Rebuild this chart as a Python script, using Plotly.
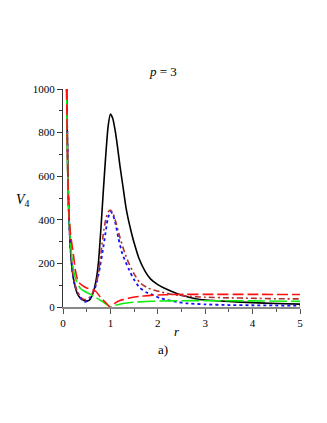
import plotly.graph_objects as go

# Black solid
r_black = [0.08, 0.09, 0.1, 0.12, 0.15, 0.18, 0.22, 0.26, 0.3, 0.35, 0.4, 0.45, 0.5, 0.55, 0.6, 0.65, 0.7, 0.75, 0.8, 0.85, 0.9, 0.95, 1.0, 1.05, 1.1, 1.15, 1.2, 1.27, 1.33, 1.38, 1.45, 1.5, 1.6, 1.73, 1.85, 2.0, 2.2, 2.4, 2.6, 2.8, 3.0, 3.5, 4.0, 4.5, 5.0]
v_black = [1000, 800, 650, 455, 300, 200, 130, 90, 62, 45, 35, 29, 27, 30, 45, 75, 125, 210, 360, 530, 690, 825, 885, 865, 810, 735, 650, 545, 455, 400, 335, 295, 225, 165, 128, 103, 80, 62, 48, 38, 32, 25, 20, 16, 13]

# Blue dotted
r_blue = [0.08, 0.1, 0.12, 0.15, 0.2, 0.25, 0.3, 0.35, 0.4, 0.46, 0.52, 0.58, 0.63, 0.68, 0.73, 0.78, 0.84, 0.89, 0.94, 1.0, 1.05, 1.1, 1.17, 1.25, 1.38, 1.5, 1.62, 1.75, 1.9, 2.05, 2.2, 2.4, 2.6, 3.0, 3.5, 4.0, 5.0]
v_blue = [1000, 650, 450, 290, 160, 100, 70, 48, 33, 24, 28, 45, 65, 90, 130, 184, 260, 330, 400, 438, 425, 390, 315, 245, 177, 125, 88, 68, 55, 40, 32, 23, 17, 12, 9, 8, 6]

# Brown dash-dot
r_brown = [0.08, 0.1, 0.12, 0.15, 0.2, 0.25, 0.3, 0.35, 0.4, 0.45, 0.5, 0.55, 0.6, 0.65, 0.7, 0.75, 0.8, 0.85, 0.9, 0.95, 1.0, 1.05, 1.1, 1.2, 1.3, 1.38, 1.5, 1.62, 1.8, 2.05, 2.3, 2.6, 3.0, 3.5, 4.0, 4.5, 5.0]
v_brown = [1000, 650, 455, 300, 170, 105, 72, 52, 40, 34, 35, 42, 55, 75, 105, 160, 245, 335, 400, 435, 445, 432, 400, 320, 250, 205, 152, 112, 86, 70, 58, 50, 45, 42, 40, 38, 37]

# Red dashed
r_red = [0.075, 0.09, 0.1, 0.12, 0.15, 0.18, 0.22, 0.26, 0.32, 0.4, 0.5, 0.64, 0.7, 0.8, 0.9, 1.0, 1.1, 1.2, 1.38, 1.6, 1.8, 2.0, 2.3, 2.6, 3.0, 4.0, 5.0]
v_red = [1000, 760, 620, 450, 350, 300, 240, 170, 116, 100, 87, 78, 70, 42, 20, 0, 18, 30, 40, 48, 52, 55, 57, 58, 58, 58, 57]

# Green long-dash
r_green = [0.075, 0.09, 0.1, 0.12, 0.15, 0.18, 0.22, 0.28, 0.36, 0.45, 0.57, 0.68, 0.78, 0.9, 1.0, 1.1, 1.2, 1.35, 1.5, 1.75, 2.0, 2.5, 3.0, 4.0, 5.0]
v_green = [1000, 750, 600, 440, 320, 240, 170, 120, 87, 72, 59, 45, 32, 15, 0, 8, 13, 18, 22, 25, 27, 29, 29, 28, 26]

x_ticks = [0, 1, 2, 3, 4, 5]
y_ticks = [0, 200, 400, 600, 800, 1000]

fig = go.Figure()
fig.add_trace(go.Scatter(x=r_black, y=v_black, mode="lines", line=dict(color="black", width=1.6, shape="spline", smoothing=0.5)))
fig.add_trace(go.Scatter(x=r_blue, y=v_blue, mode="lines", line=dict(color="#1010ff", width=1.8, dash="dot", shape="spline", smoothing=0.5)))
fig.add_trace(go.Scatter(x=r_brown, y=v_brown, mode="lines", line=dict(color="#b03030", width=1.6, dash="6px,3px,2px,3px", shape="spline", smoothing=0.5)))
fig.add_trace(go.Scatter(x=r_green, y=v_green, mode="lines", line=dict(color="#10ee10", width=1.6, dash="18px,4px", shape="spline", smoothing=0.5)))
fig.add_trace(go.Scatter(x=r_red, y=v_red, mode="lines", line=dict(color="#ff1010", width=1.6, dash="11px,4px", shape="spline", smoothing=0.5)))

font = "Liberation Serif, Times New Roman, serif"
ann = dict(xref="paper", yref="paper", showarrow=False, xanchor="center", yanchor="middle")
fig.update_layout(
    width=319, height=415,
    margin=dict(l=55, r=27, t=81, b=116),
    paper_bgcolor="white", plot_bgcolor="white",
    showlegend=False,
    font=dict(family=font, size=11, color="black"),
    xaxis=dict(range=[0, 5], tickvals=x_ticks, ticktext=[str(t) for t in x_ticks],
               showgrid=False, zeroline=False, showline=True, linecolor="#888888", linewidth=2,
               ticks="outside", ticklen=5, tickcolor="#555555",
               tickfont=dict(family=font, size=11),
               minor=dict(tickvals=[0.5, 1.5, 2.5, 3.5, 4.5], ticks="outside", ticklen=3, tickcolor="#555555"),
               fixedrange=True),
    yaxis=dict(range=[0, 1000], tickvals=y_ticks, ticktext=[str(t) for t in y_ticks],
               showgrid=False, zeroline=False, showline=True, linecolor="#333333", linewidth=1.2,
               ticks="outside", ticklen=5, tickcolor="#333333",
               tickfont=dict(family=font, size=11),
               minor=dict(dtick=100, ticks="outside", ticklen=3, tickcolor="#333333"),
               fixedrange=True),
    annotations=[
        dict(text="<i>p</i> = 3", x=0.42, y=1.078, font=dict(size=13, family=font), **ann),
        dict(text="<i>V</i><sub>4</sub>", x=-0.17, y=0.49, font=dict(size=14, family=font), **ann),
        dict(text="<i>r</i>", x=0.48, y=-0.113, font=dict(size=13, family=font), **ann),
        dict(text="a)", x=0.42, y=-0.193, font=dict(size=13, family=font), **ann),
    ],
)
fig.write_html("out.html")
